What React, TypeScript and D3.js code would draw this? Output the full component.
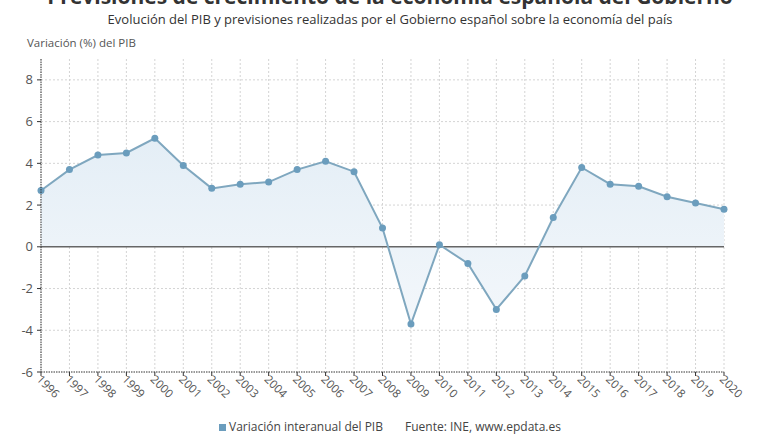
import React from 'react';
import * as d3 from 'd3';

const years = ['1996', '1997', '1998', '1999', '2000', '2001', '2002', '2003', '2004', '2005', '2006', '2007', '2008',
  '2009', '2010', '2011', '2012', '2013', '2014', '2015', '2016', '2017', '2018', '2019', '2020'];
const pib = [2.7, 3.7, 4.4, 4.5, 5.2, 3.9, 2.8, 3.0, 3.1, 3.7, 4.1, 3.6, 0.9, -3.7, 0.1, -0.8, -3.0, -1.4, 1.4, 3.8,
  3.0, 2.9, 2.4, 2.1, 1.8];
const yTicks = [-6, -4, -2, 0, 2, 4, 6, 8];

const W = 780, H = 440;
const font = "'Open Sans', sans-serif";

export default function App() {
  const x = d3.scalePoint<string>().domain(years).range([41, 724]);
  const y = d3.scaleLinear().domain([-6, 9]).range([372, 59]);

  const pts = years.map((yr, i) => ({ yr, v: pib[i] }));
  const line = d3.line<{ yr: string; v: number }>().x(d => x(d.yr)!).y(d => y(d.v));
  const area = d3.area<{ yr: string; v: number }>().x(d => x(d.yr)!).y0(y(0)).y1(d => y(d.v));

  return (
    <svg width={W} height={H} style={{ position: 'absolute', left: 0, top: 0, background: '#fff' }} fontFamily={font}>
      <defs>
        <linearGradient id="fillg" x1="0" y1="0" x2="0" y2="1">
          <stop offset="0%" stopColor="#e4eef6" />
          <stop offset="100%" stopColor="#f3f7fb" />
        </linearGradient>
      </defs>
      <rect width={W} height={H} fill="#fff" />
      <text x={390} y={4} textAnchor="middle" fontSize={21} fontWeight="bold" fill="#333">
        Previsiones de crecimiento de la economía española del Gobierno
      </text>
      <text x={390} y={24} textAnchor="middle" fontSize={13} fill="#333">
        Evolución del PIB y previsiones realizadas por el Gobierno español sobre la economía del país
      </text>
      <text x={27} y={47} fontSize={11.5} fill="#555">Variación (%) del PIB</text>

      {/* grid */}
      {years.map(yr => (
        <line key={'v' + yr} x1={x(yr)} x2={x(yr)} y1={59} y2={372} stroke="#d4d4d4" strokeDasharray="2,2" />
      ))}
      {yTicks.filter(t => t !== 0 && t !== -6).map(t => (
        <line key={'h' + t} x1={41} x2={724} y1={y(t)} y2={y(t)} stroke="#d4d4d4" strokeDasharray="2,2" />
      ))}

      <path d={area(pts)!} fill="url(#fillg)" />
      <line x1={41} x2={724} y1={y(0)} y2={y(0)} stroke="#666" strokeWidth={1.5} />
      <path d={line(pts)!} fill="none" stroke="#7fa7bf" strokeWidth={2} />
      {pts.map(d => (
        <circle key={d.yr} cx={x(d.yr)} cy={y(d.v)} r={3.5} fill="#6b9dbd" />
      ))}

      {/* axes */}
      <line x1={41} x2={41} y1={59} y2={372} stroke="#333" strokeDasharray="1.5,1" />
      <line x1={41} x2={724} y1={372} y2={372} stroke="#333" strokeDasharray="1.5,1" />
      {yTicks.map(t => (
        <g key={'yt' + t}>
          <line x1={37} x2={41} y1={y(t)} y2={y(t)} stroke="#333" />
          <text x={33} y={y(t) + 4.5} textAnchor="end" fontSize={13} fill="#555">{t}</text>
        </g>
      ))}
      {years.map(yr => (
        <g key={'xt' + yr}>
          <line x1={x(yr)} x2={x(yr)} y1={372} y2={376} stroke="#333" />
          <text transform={`translate(${x(yr)! - 5},${380}) rotate(45)`} fontSize={11.5} fill="#555">{yr}</text>
        </g>
      ))}

      {/* legend */}
      <rect x={219} y={424} width={7} height={7} fill="#6b9dbd" />
      <text x={229} y={431} fontSize={12} fill="#444">Variación interanual del PIB</text>
      <text x={405} y={431} fontSize={12} fill="#444">Fuente: INE, www.epdata.es</text>
    </svg>
  );
}
